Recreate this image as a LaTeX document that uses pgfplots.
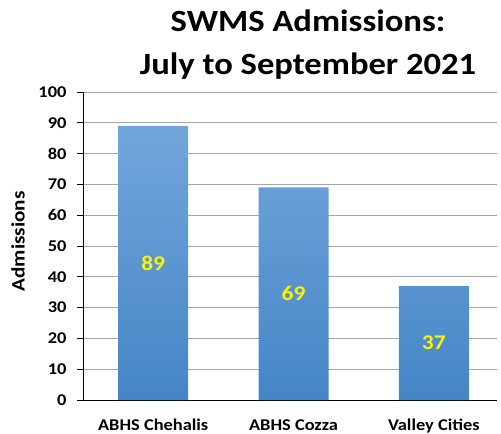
\documentclass[border=0pt]{standalone}
\usepackage{pgfplots}
\pgfplotsset{compat=1.18}
\usepackage{fontspec}
\setmainfont{Carlito}[FakeStretch=1.12]
\definecolor{gridgray}{HTML}{A6A6A6}
\definecolor{bartop}{HTML}{72A6DC}
\definecolor{barbot}{HTML}{4585C6}
\begin{document}
\begin{tikzpicture}
\useasboundingbox (-83bp,-34bp) rectangle (418bp,400bp);
\begin{axis}[
  at={(0,0)}, anchor=south west,
  scale only axis,
  width=414bp, height=308bp,
  xmin=-0.5, xmax=2.45,
  ymin=0, ymax=100,
  ytick={0,10,...,100},
  xtick={0,1,2},
  xticklabels={ABHS Chehalis,ABHS Cozza,Valley Cities},
  axis x line=bottom, axis y line=left,
  axis line style={-, black, line width=0.8pt},
  ymajorgrids, grid style={gridgray, line width=0.9pt},
  major x tick style={draw=none},
  ytick style={black, line width=0.8pt},
  tick align=outside, major tick length=6bp,
  /pgf/number format/assume math mode=true,
  ticklabel style={font=\fontsize{16.5}{19}\selectfont\bfseries},
  yticklabel style={xshift=-7bp},
  xticklabel style={anchor=base, yshift=-24bp},
  ylabel={Admissions},
  ylabel style={font=\fontsize{19}{21}\selectfont\bfseries, at={(axis description cs:-0.157,0.515)}, anchor=center},
  title={SWMS Admissions:\\July to September 2021},
  title style={font=\fontsize{31}{43}\selectfont\bfseries, align=center, at={(axis description cs:0.5,1)}, anchor=base, yshift=12bp, xshift=18bp},
  clip=false,
]
\addplot[ybar, bar width=70bp, draw=none, bar shift=0pt,
  top color=bartop, bottom color=barbot, shading=axis]
  coordinates {(0,89) (1,69) (2,37)};
\addplot[draw=none, mark=none, nodes near coords, point meta=explicit symbolic,
  nodes near coords align=center,
  every node near coord/.style={font=\fontsize{21}{23}\selectfont\bfseries, text=yellow, anchor=center}]
  coordinates {(0,44.5)[89] (1,34.5)[69] (2,18.5)[37]};
\end{axis}
\end{tikzpicture}
\end{document}
